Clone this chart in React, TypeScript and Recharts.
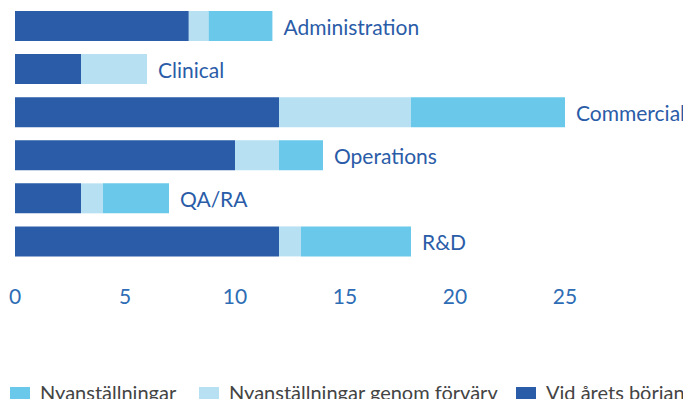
import { Bar, BarChart, LabelList, Legend, XAxis, YAxis } from "recharts";

const categories = ["Administration", "Clinical", "Commercial", "Operations", "QA/RA", "R&D"];
const vidAretsBorjan = [7.9, 3, 12, 10, 3, 12];
const genomForvarv = [0.9, 3, 6, 2, 1, 1];
const nyanstallningar = [2.9, 0, 7, 2, 3, 5];
const xTicks = [0, 5, 10, 15, 20, 25];
const legendOrder = ["Nyanställningar", "Nyanställningar genom förvärv", "Vid årets början"];

const DARK = "#2a5ca8";
const LIGHT = "#b7e1f2";
const MEDIUM = "#6ac8ea";
const FONT = "Lato, 'Open Sans', sans-serif";
const LEGEND_LEFT = [10, 199, 516];

const data = categories.map((name, i) => ({
  name,
  start: vidAretsBorjan[i],
  acquired: genomForvarv[i],
  hired: nyanstallningar[i],
}));

function ChartLegend({ payload }: any) {
  const items = legendOrder
    .map((n) => (payload || []).find((p: any) => p.value === n))
    .filter(Boolean);
  return (
    <div style={{ position: "relative", height: 26, width: 691 }}>
      {items.map((item: any, i: number) => (
        <div
          key={item.value}
          style={{
            position: "absolute",
            left: LEGEND_LEFT[i],
            top: 0,
            height: 26,
            display: "flex",
            alignItems: "center",
            whiteSpace: "nowrap",
          }}
        >
          <span
            style={{
              display: "inline-block",
              width: 20,
              height: 19,
              background: item.color,
              marginRight: 10,
              position: "relative",
              top: 4,
            }}
          />
          <span style={{ fontFamily: FONT, fontSize: 20, color: "#444", lineHeight: "26px" }}>
            {item.value}
          </span>
        </div>
      ))}
    </div>
  );
}

// label sits at the end of the whole stack, measured from the first segment
function EndLabel(props: any) {
  const { x, y, width, height, index } = props;
  const d = data[index];
  if (!d) return null;
  const total = d.start + d.acquired + d.hired;
  const end = x + (width / d.start) * total;
  return (
    <text
      x={end + 11}
      y={y + height / 2}
      dominantBaseline="central"
      fill={DARK}
      fontSize={21}
      fontFamily={FONT}
    >
      {d.name}
    </text>
  );
}

export default function App() {
  return (
    <div style={{ margin: -8, width: 691, height: 407, background: "#fff", overflow: "hidden" }}>
      <BarChart
        width={691}
        height={407}
        data={data}
        layout="vertical"
        margin={{ top: 4.5, right: 126, left: 15, bottom: 0 }}
        barCategoryGap={6.5}
      >
        <XAxis
          type="number"
          domain={[0, 25]}
          ticks={xTicks}
          axisLine={false}
          tickLine={false}
          tickMargin={20}
          height={118}
          tick={{ fill: "#2e6db5", fontSize: 21, fontFamily: FONT }}
        />
        <YAxis type="category" dataKey="name" hide />
        <Legend
          verticalAlign="bottom"
          content={<ChartLegend />}
          wrapperStyle={{ top: 379, left: 0, width: 691, height: 26 }}
        />
        <Bar dataKey="start" name="Vid årets början" stackId="a" fill={DARK} isAnimationActive={false}>
          <LabelList dataKey="name" content={<EndLabel />} />
        </Bar>
        <Bar dataKey="acquired" name="Nyanställningar genom förvärv" stackId="a" fill={LIGHT} isAnimationActive={false} />
        <Bar dataKey="hired" name="Nyanställningar" stackId="a" fill={MEDIUM} isAnimationActive={false} />
      </BarChart>
    </div>
  );
}
